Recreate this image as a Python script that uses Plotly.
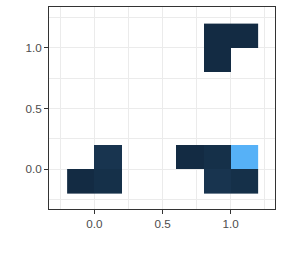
import plotly.graph_objects as go

# Tile centres and counts (bin width 0.2)
tile_x = [-0.1, 0.1, 0.1, 0.7, 0.9, 1.1, 0.9, 1.1, 0.9, 0.9, 1.1]
tile_y = [-0.1, -0.1, 0.1, 0.1, 0.1, 0.1, -0.1, -0.1, 0.9, 1.1, 1.1]
tile_count = [1, 2, 3, 1, 2, 30, 3, 2, 1, 1, 1]

x_centres = [-0.1, 0.1, 0.3, 0.5, 0.7, 0.9, 1.1]
y_centres = [-0.1, 0.1, 0.3, 0.5, 0.7, 0.9, 1.1]

z = [[None for _ in x_centres] for _ in y_centres]
for xv, yv, c in zip(tile_x, tile_y, tile_count):
    i = min(range(len(y_centres)), key=lambda k: abs(y_centres[k] - yv))
    j = min(range(len(x_centres)), key=lambda k: abs(x_centres[k] - xv))
    z[i][j] = c

fig = go.Figure(go.Heatmap(
    x=x_centres, y=y_centres, z=z,
    colorscale=[[0, "#132B43"], [1, "#56B1F7"]],
    showscale=False, hoverongaps=False,
))

axis_common = dict(
    showgrid=True, gridcolor="#EBEBEB", gridwidth=1,
    zeroline=False,
    showline=True, linecolor="#333333", linewidth=1, mirror=True,
    ticks="outside", ticklen=4, tickcolor="#333333", tickwidth=1,
    tickfont=dict(family="Liberation Sans, Arial, sans-serif", size=11.7, color="#4D4D4D"),
    tickmode="array", tickvals=[0, 0.5, 1.0], ticktext=["0.0", "0.5", "1.0"],
    minor=dict(tickvals=[-0.25, 0.25, 0.75, 1.25], showgrid=True,
               gridcolor="#EBEBEB", gridwidth=0.6, ticks=""),
)

fig.update_layout(
    width=283, height=254,
    margin=dict(l=49, r=8, t=7, b=45),
    paper_bgcolor="white", plot_bgcolor="white",
    xaxis=dict(range=[-0.333, 1.325], **axis_common),
    yaxis=dict(range=[-0.329, 1.337], **axis_common),
)

fig.write_html("out.html")
